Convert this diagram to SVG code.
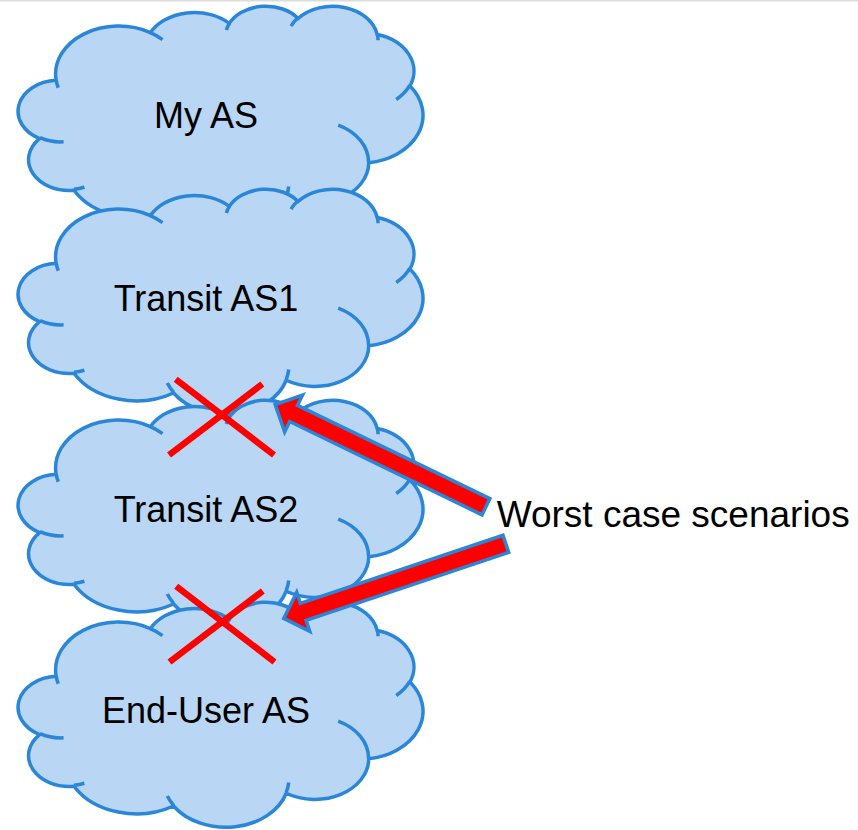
<svg xmlns="http://www.w3.org/2000/svg" xmlns:xlink="http://www.w3.org/1999/xlink" width="858" height="830" viewBox="0 0 858 830">
<style>
.cloud-body{fill:#B9D6F5;stroke:#2A86D9;stroke-width:3.5}
.cloud-notch{fill:none;stroke:#2A86D9;stroke-width:3.5}
.label{font-family:"Liberation Sans",Arial,sans-serif;font-size:36px;fill:#000}
.arrow{fill:#FF0000;stroke:#2A86D9;stroke-width:3.5;stroke-linejoin:miter}
.cross{stroke:#FF0000;stroke-width:6.5;stroke-linecap:butt}
</style>
<defs>
<g id="cloud">
<path class="cloud-body" d="M36.38,74.84 A63.00,47.86 0 0 1 130.65,27.10 A49.75,37.85 0 0 1 209.49,17.87 A40.72,30.96 0 0 1 278.31,12.91 A45.31,34.35 0 0 1 357.46,29.03 A49.75,37.88 0 0 1 390.12,80.51 A63.20,48.02 0 0 1 348.94,157.30 A53.97,40.97 0 0 1 266.39,191.73 A62.99,47.99 0 0 1 153.74,204.49 A72.02,54.91 0 0 1 54.15,184.73 A40.67,30.82 0 0 1 19.72,133.06 A40.53,30.96 0 0 1 36.38,74.84 Z"/>
<path class="cloud-notch" d="M43.78,136.34 A40.53,30.96 0 0 1 20.15,132.19 M64.63,181.77 A40.67,30.82 0 0 1 54.29,183.75 M153.72,203.59 A62.99,47.99 0 0 1 147.49,194.53 M268.92,181.00 A62.99,47.99 0 0 1 266.43,190.94 M318.38,119.55 A53.97,40.97 0 0 1 348.71,156.72 M389.92,79.97 A49.75,37.88 0 0 1 376.41,93.91 M357.51,28.26 A45.31,34.35 0 0 1 358.23,34.84 M271.26,20.58 A45.31,34.35 0 0 1 278.18,12.19 M206.55,24.58 A40.72,30.96 0 0 1 209.90,17.35 M130.60,27.04 A63.00,47.86 0 0 1 142.73,34.06 M38.50,82.23 A63.00,47.86 0 0 1 36.38,74.84"/>
</g>
<polygon id="bigarrow" points="1.75,-9 215.5,-9 215.5,-20.5 236,0 215.5,20.5 215.5,9 1.75,9"/>
</defs>
<rect x="0" y="0" width="858" height="1.5" fill="#DCDCDC"/>
<g id="node-my-as">
<use xlink:href="#cloud" transform="translate(19.8,5.5)"/>
<text class="label" x="206" y="128.3" text-anchor="middle">My AS</text>
</g>
<g id="node-transit-as1">
<use xlink:href="#cloud" transform="translate(19.8,188.5)"/>
<text class="label" x="206" y="310.7" text-anchor="middle">Transit AS1</text>
</g>
<g id="node-transit-as2">
<use xlink:href="#cloud" transform="translate(19.8,399.5)"/>
<text class="label" x="206" y="521.7" text-anchor="middle">Transit AS2</text>
</g>
<g id="node-end-user-as">
<use xlink:href="#cloud" transform="translate(19.8,601.5)"/>
<text class="label" x="206" y="723.3" text-anchor="middle">End-User AS</text>
</g>
<g id="crosses">
<line class="cross" x1="175.7" y1="379.3" x2="274" y2="455"/>
<line class="cross" x1="262.3" y1="384" x2="169" y2="455"/>
<line class="cross" x1="176.2" y1="586.3" x2="274.5" y2="662"/>
<line class="cross" x1="262.8" y1="591" x2="169.5" y2="662"/>
</g>
<g id="connectors">
<use xlink:href="#bigarrow" class="arrow" transform="translate(487.5,507.5) rotate(205.88)"/>
<use xlink:href="#bigarrow" class="arrow" transform="translate(507.5,543.3) rotate(161.45)"/>
</g>
<g id="node-worst-case">
<text class="label" x="496.7" y="526.7" style="font-size:37px">Worst case scenarios</text>
</g>
</svg>
